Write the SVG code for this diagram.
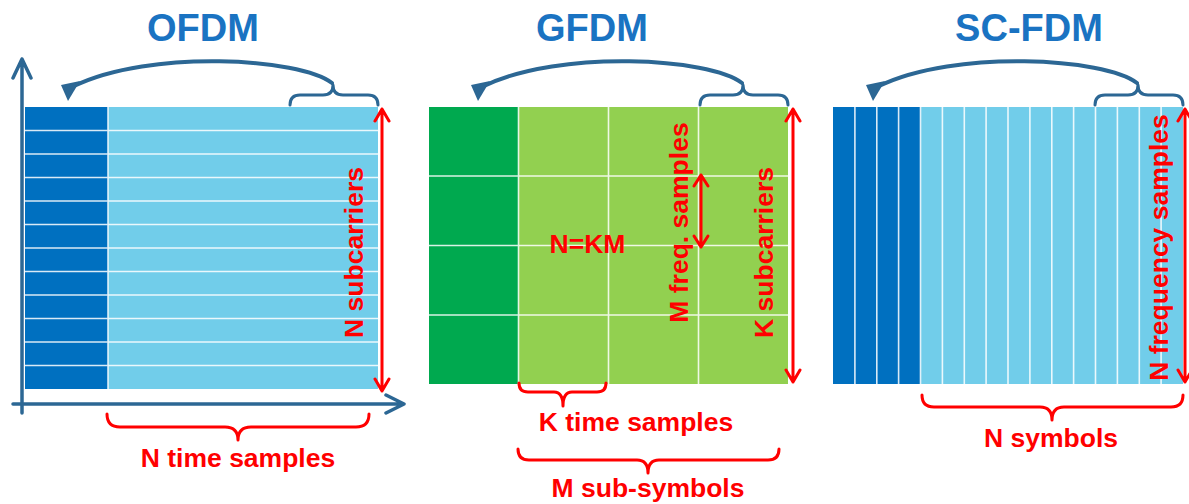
<svg xmlns="http://www.w3.org/2000/svg" xmlns:xlink="http://www.w3.org/1999/xlink" width="1189" height="504" viewBox="0 0 1189 504">
<style>
.title{font-family:"Liberation Sans",Arial,sans-serif;font-weight:bold;font-size:38px;fill:#1A73C2;text-anchor:middle}
.lbl{font-family:"Liberation Sans",Arial,sans-serif;font-weight:bold;font-size:26.5px;fill:#FF0000;text-anchor:middle}
.grid{stroke:#FFFFFF;stroke-width:1.6;stroke-opacity:0.85;fill:none}
.red{stroke:#FF0000;stroke-width:3;fill:none;stroke-linecap:round;stroke-linejoin:round}
.blue{stroke:#2C6794;stroke-width:3;fill:none;stroke-linecap:round;stroke-linejoin:round}
.axis{stroke:#2C6794;stroke-width:3.5;fill:none;stroke-linecap:round;stroke-linejoin:round}
.dblue{fill:#0070C0}.lblue{fill:#71CDEA}.dgreen{fill:#00A94F}.lgreen{fill:#92D050}
</style>
<defs>
<g id="loop">
<path d="M332,83 C300,58 150,49 74,86" stroke="#2C6794" stroke-width="4" fill="none" stroke-linecap="round"/>
<polygon points="61,85 80,81 68,101" fill="#2C6794"/>
<path d="M290,105 Q290,95 300,95 L323,95 Q333,95 333,85 Q333,95 343,95 L368,95 Q378,95 378,105" class="blue"/>
</g>
</defs>

<g id="titles">
<text class="title" x="203" y="41">OFDM</text>
<text class="title" x="592" y="41">GFDM</text>
<text class="title" x="1029" y="41">SC-FDM</text>
</g>

<g id="ofdm">
<rect class="lblue" x="25" y="107" width="353" height="282"/>
<rect class="dblue" x="25" y="107" width="83" height="282"/>
<path class="grid" d="M108,107 V389 M25,130.5 H378 M25,154 H378 M25,177.5 H378 M25,201 H378 M25,224.5 H378 M25,248 H378 M25,271.5 H378 M25,295 H378 M25,318.5 H378 M25,342 H378 M25,365.5 H378"/>
</g>

<g id="gfdm">
<rect class="lgreen" x="429" y="107" width="359" height="277"/>
<rect class="dgreen" x="429" y="107" width="89.5" height="277"/>
<path class="grid" d="M518.5,107 V384 M608.5,107 V384 M698.5,107 V384 M429,176 H788 M429,245.5 H788 M429,315 H788"/>
<text class="lbl" x="587.5" y="253">N=KM</text>
</g>

<g id="scfdm">
<rect class="lblue" x="833" y="107" width="350" height="277"/>
<rect class="dblue" x="833" y="107" width="87.5" height="277"/>
<path class="grid" d="M854.9,107V384M876.8,107V384M898.6,107V384M920.5,107V384M942.4,107V384M964.3,107V384M986.1,107V384M1008,107V384M1029.9,107V384M1051.8,107V384M1073.6,107V384M1095.5,107V384M1117.4,107V384M1139.3,107V384M1161.1,107V384"/>
</g>

<g id="axes">
<path class="axis" d="M22,413 V59 M13,78 L22,59 L31,78"/>
<path class="axis" d="M13,404 H404 M386,395 L404,404 L386,413"/>
</g>

<g id="connectors">
<use xlink:href="#loop"/>
<use xlink:href="#loop" transform="translate(410,0)"/>
<use xlink:href="#loop" transform="translate(805,0)"/>
<path class="red" d="M382,109 V391 M375,121 L382,109 L389,121 M375,379 L382,391 L389,379"/>
<path class="red" d="M793,109 V382 M786,121 L793,109 L800,121 M786,370 L793,382 L800,370"/>
<path class="red" d="M1185,109 V382 M1178,121 L1185,109 L1192,121 M1178,370 L1185,382 L1192,370"/>
<path class="red" d="M701,175 V247 M694,186 L701,175 L708,186 M694,236 L701,247 L708,236"/>
<path class="red" d="M107,414 Q107,427 120,427 L225,427 Q238,427 238,440 Q238,427 251,427 L356,427 Q369,427 369,414"/>
<path class="red" d="M519,383 Q519,392 528,392 L554,392 Q563,392 563,406 Q563,392 572,392 L597,392 Q606,392 606,383"/>
<path class="red" d="M518,449 Q518,460 529,460 L637,460 Q648,460 648,473 Q648,460 659,460 L768,460 Q779,460 779,449"/>
<path class="red" d="M922,395 Q922,407 934,407 L1040,407 Q1052,407 1052,420 Q1052,407 1064,407 L1171,407 Q1183,407 1183,395"/>
</g>

<g id="labels">
<text class="lbl" transform="translate(363,252.5) rotate(-90)">N subcarriers</text>
<text class="lbl" x="238" y="467">N time samples</text>
<text class="lbl" transform="translate(773,252.5) rotate(-90)">K subcarriers</text>
<text class="lbl" transform="translate(688,222.5) rotate(-90)">M freq. samples</text>
<text class="lbl" x="636" y="431">K time samples</text>
<text class="lbl" x="648" y="497">M sub-symbols</text>
<text class="lbl" transform="translate(1168,247.5) rotate(-90)">N frequency samples</text>
<text class="lbl" x="1051" y="447">N symbols</text>
</g>
</svg>
